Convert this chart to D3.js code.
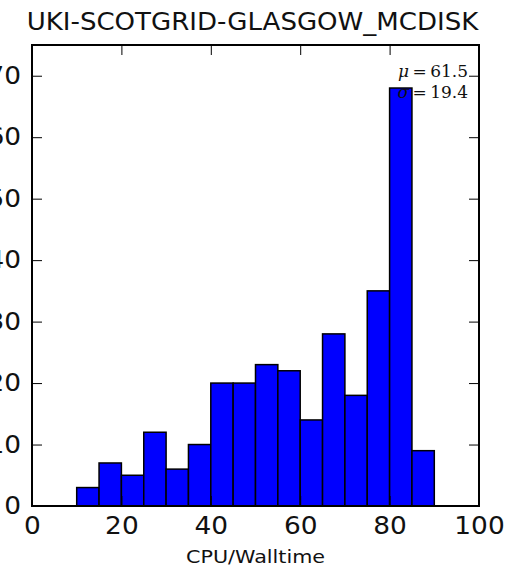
<!DOCTYPE html>
<html>
<head>
<meta charset="utf-8">
<script src="https://cdn.jsdelivr.net/npm/d3@7"></script>
<style>
  body { margin: 0; background: #fff; }
  svg { display: block; }
</style>
</head>
<body>
<div id="chart"></div>
<script>
// Define SVG area dimensions
var svgWidth = 514;
var svgHeight = 566;

var margin = { top: 45, right: 35, bottom: 60, left: 32 };

var width = svgWidth - margin.left - margin.right;
var height = svgHeight - margin.top - margin.bottom;

// histogram data (bin edges + counts per bin)
var binEdges = [10, 15, 20, 25, 30, 35, 40, 45, 50, 55, 60, 65, 70, 75, 80, 85, 90];
var counts = [3, 7, 5, 12, 6, 10, 20, 20, 23, 22, 14, 28, 18, 35, 68, 9];
var xTicks = [0, 20, 40, 60, 80, 100];
var yTicks = [0, 10, 20, 30, 40, 50, 60, 70];
var titleText = "UKI-SCOTGRID-GLASGOW_MCDISK";
var xLabelText = "CPU/Walltime";
var statMu = "61.5";
var statSigma = "19.4";

var bins = counts.map(function (c, i) {
  return { x0: binEdges[i], x1: binEdges[i + 1], count: c };
});

// the picture is a bit wider than tall, so stretch the text sideways
var stretch = 1.1;

var svg = d3
  .select("#chart")
  .append("svg")
  .attr("width", svgWidth)
  .attr("height", svgHeight);

var chartGroup = svg
  .append("g")
  .attr("transform", `translate(${margin.left}, ${margin.top})`);

// scales
var xScale = d3.scaleLinear().domain([0, 100]).range([0, width]);
var yScale = d3.scaleLinear().domain([0, 75]).range([height, 0]);

// bars
chartGroup
  .selectAll("rect.bar")
  .data(bins)
  .enter()
  .append("rect")
  .attr("class", "bar")
  .attr("x", (d) => xScale(d.x0))
  .attr("y", (d) => yScale(d.count))
  .attr("width", (d) => xScale(d.x1) - xScale(d.x0))
  .attr("height", (d) => yScale(0) - yScale(d.count))
  .attr("fill", "#0000ff")
  .attr("stroke", "#000")
  .attr("stroke-width", 1.5);

var tickFont = "DejaVu Sans, sans-serif";

// bottom axis (ticks point inwards)
var bottomAxis = d3
  .axisBottom(xScale)
  .tickValues(xTicks)
  .tickSizeInner(-10)
  .tickSizeOuter(0)
  .tickPadding(11);

var xAxis = chartGroup
  .append("g")
  .attr("transform", `translate(0, ${height})`)
  .call(bottomAxis);

// left axis
var leftAxis = d3
  .axisLeft(yScale)
  .tickValues(yTicks)
  .tickSizeInner(-10)
  .tickSizeOuter(0)
  .tickPadding(10);

var yAxis = chartGroup.append("g").call(leftAxis);

// top + right: ticks only
var topAxis = d3.axisTop(xScale).tickValues(xTicks).tickSizeInner(-10).tickSizeOuter(0).tickFormat("");
chartGroup.append("g").call(topAxis);

var rightAxis = d3.axisRight(yScale).tickValues(yTicks).tickSizeInner(-10).tickSizeOuter(0).tickFormat("");
chartGroup.append("g").attr("transform", `translate(${width}, 0)`).call(rightAxis);

chartGroup.selectAll(".domain").remove();
chartGroup.selectAll(".tick line").attr("stroke", "#000").attr("stroke-width", 1);
chartGroup
  .selectAll(".tick text")
  .attr("fill", "#111")
  .style("font-family", tickFont)
  .style("font-size", "24px")
  .attr("transform", `scale(${stretch},1)`);

// frame
chartGroup
  .append("rect")
  .attr("x", 0)
  .attr("y", 0)
  .attr("width", width)
  .attr("height", height)
  .attr("fill", "none")
  .attr("stroke", "#000")
  .attr("stroke-width", 2);

// stats text (top right), mathtext-like spacing round "="
function statLine(sym, val, y) {
  var t = chartGroup
    .append("text")
    .attr("x", width - 11)
    .attr("y", y)
    .attr("text-anchor", "end")
    .style("font-family", "DejaVu Serif, serif")
    .style("font-size", "17px")
    .attr("fill", "#111");
  t.append("tspan").style("font-style", "italic").text(sym);
  t.append("tspan").text("\u2009=\u2009" + val);
  return t;
}
statLine("\u03bc", statMu, 32);
statLine("\u03c3", statSigma, 53);

// title
svg
  .append("text")
  .attr("transform", `translate(${margin.left + width / 2 - 3}, 30) scale(1.085,1)`)
  .attr("text-anchor", "middle")
  .style("font-family", tickFont)
  .style("font-size", "24px")
  .attr("fill", "#111")
  .text(titleText);

// x label
svg
  .append("text")
  .attr("transform", `translate(${margin.left + width / 2}, 563) scale(1.15,1)`)
  .attr("text-anchor", "middle")
  .style("font-family", tickFont)
  .style("font-size", "18px")
  .attr("fill", "#111")
  .text(xLabelText);
</script>
</body>
</html>
